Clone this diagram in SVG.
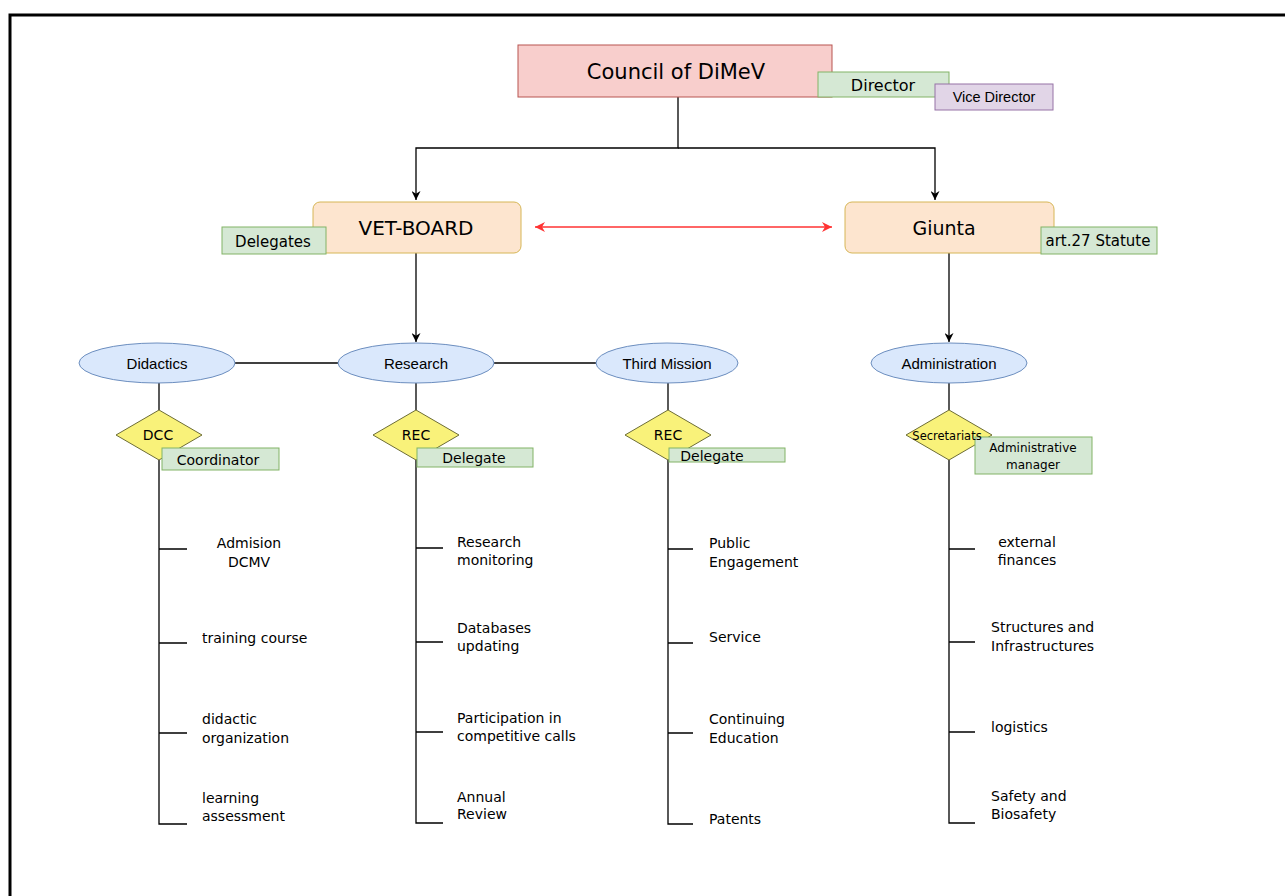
<svg xmlns="http://www.w3.org/2000/svg" width="1285" height="896" viewBox="0 0 1285 896">
<defs>
<style>
.c{font-family:"DejaVu Sans",sans-serif;fill:#000;dominant-baseline:central}
.a{font-family:"Liberation Sans",Arial,sans-serif;fill:#000;dominant-baseline:central}
.mid{text-anchor:middle}
.leaf{font-size:14px}
.ln{stroke:#000;stroke-width:1.3;fill:none}
.grn{fill:#d5e8d4;stroke:#82b366;stroke-width:1}
.ell{fill:#dae8fc;stroke:#6c8ebf;stroke-width:1}
.dia{fill:#f9f27a;stroke:#6d6d36;stroke-width:1}
.org{fill:#fde5cf;stroke:#d6b656;stroke-width:1}
</style>
<marker id="ab" viewBox="0 0 10 10" refX="10" refY="5" markerWidth="9" markerHeight="9" markerUnits="userSpaceOnUse" orient="auto">
<path d="M0,0 L10,5 L0,10 L3,5 Z" fill="#000"/>
</marker>
<marker id="ar" viewBox="0 0 10 10" refX="10" refY="5" markerWidth="10" markerHeight="10" markerUnits="userSpaceOnUse" orient="auto-start-reverse">
<path d="M0,0 L10,5 L0,10 L3,5 Z" fill="#ff3333"/>
</marker>
</defs>
<rect width="1285" height="896" fill="#fff"/>
<path d="M10,896 V15 H1285" fill="none" stroke="#000" stroke-width="3"/>

<g id="connectors">
<path class="ln" d="M678,97 V148 H416 V200" marker-end="url(#ab)"/>
<path class="ln" d="M678,148 H935 V200" marker-end="url(#ab)"/>
<line x1="535" y1="227" x2="832" y2="227" stroke="#ff3333" stroke-width="1.3" marker-start="url(#ar)" marker-end="url(#ar)"/>
<path class="ln" d="M416,253 V342" marker-end="url(#ab)"/>
<path class="ln" d="M949,253 V342" marker-end="url(#ab)"/>
<line class="ln" x1="235" y1="363" x2="338" y2="363"/>
<line class="ln" x1="494" y1="363" x2="596" y2="363"/>
<line class="ln" x1="159" y1="383" x2="159" y2="410"/>
<line class="ln" x1="416" y1="383" x2="416" y2="410"/>
<line class="ln" x1="668" y1="383" x2="668" y2="410"/>
<line class="ln" x1="949" y1="383" x2="949" y2="410"/>
<path class="ln" d="M159,460 V824 H187 M159,549 H187 M159,643 H187 M159,733 H187"/>
<path class="ln" d="M416,460 V823 H443 M416,548 H443 M416,642 H443 M416,732 H443"/>
<path class="ln" d="M668,460 V824 H693 M668,549 H693 M668,643 H693 M668,733 H693"/>
<path class="ln" d="M949,460 V823 H975 M949,549 H975 M949,642 H975 M949,732 H975"/>
</g>

<g id="council">
<rect x="518" y="45" width="314" height="52" fill="#f8cecc" stroke="#b85450" stroke-width="1"/>
<text class="c mid" x="676" y="72" font-size="21">Council of DiMeV</text>
</g>
<g id="director">
<rect class="grn" x="818" y="72" width="131" height="25"/>
<text class="c mid" x="883" y="85" font-size="16">Director</text>
</g>
<g id="vice-director">
<rect x="935" y="84" width="118" height="26" fill="#e1d5e7" stroke="#9673a6" stroke-width="1"/>
<text class="a mid" x="994" y="97" font-size="14.5">Vice Director</text>
</g>

<g id="vet-board">
<rect class="org" x="313" y="202" width="208" height="51" rx="7"/>
<text class="c mid" x="416" y="228" font-size="20">VET-BOARD</text>
</g>
<g id="delegates">
<rect class="grn" x="222" y="227" width="104" height="27"/>
<text class="c mid" x="273" y="242" font-size="15">Delegates</text>
</g>
<g id="giunta">
<rect class="org" x="845" y="202" width="209" height="51" rx="7"/>
<text class="c mid" x="944" y="228" font-size="19">Giunta</text>
</g>
<g id="art27">
<rect class="grn" x="1041" y="227" width="116" height="27"/>
<text class="c mid" x="1098" y="241" font-size="15">art.27 Statute</text>
</g>

<g id="didactics">
<ellipse class="ell" cx="157" cy="363" rx="78" ry="20"/>
<text class="a mid" x="157" y="363" font-size="15">Didactics</text>
</g>
<g id="research">
<ellipse class="ell" cx="416" cy="363" rx="78" ry="20"/>
<text class="a mid" x="416" y="363" font-size="15">Research</text>
</g>
<g id="third-mission">
<ellipse class="ell" cx="667" cy="363" rx="71" ry="20"/>
<text class="a mid" x="667" y="363" font-size="15">Third Mission</text>
</g>
<g id="administration">
<ellipse class="ell" cx="949" cy="363" rx="78" ry="20"/>
<text class="a mid" x="949" y="363" font-size="15">Administration</text>
</g>

<g id="dcc">
<path class="dia" d="M159,410 L202,435 L159,460 L116,435 Z"/>
<text class="c mid" x="158" y="435" font-size="14">DCC</text>
</g>
<g id="coordinator">
<rect class="grn" x="162" y="448" width="117" height="22"/>
<text class="c mid" x="218" y="460" font-size="14">Coordinator</text>
</g>
<g id="rec-research">
<path class="dia" d="M416,410 L459,435 L416,460 L373,435 Z"/>
<text class="c mid" x="416" y="435" font-size="14">REC</text>
</g>
<g id="delegate-research">
<rect class="grn" x="417" y="448" width="116" height="19"/>
<text class="c mid" x="474" y="458" font-size="14">Delegate</text>
</g>
<g id="rec-third">
<path class="dia" d="M668,410 L711,435 L668,460 L625,435 Z"/>
<text class="c mid" x="668" y="435" font-size="14">REC</text>
</g>
<g id="delegate-third">
<rect class="grn" x="669" y="448" width="116" height="14"/>
<text class="c mid" x="712" y="456" font-size="14">Delegate</text>
</g>
<g id="secretariats">
<path class="dia" d="M949,410 L992,435 L949,460 L906,435 Z"/>
</g>
<g id="admin-manager">
<rect class="grn" x="975" y="437" width="117" height="37"/>
<text class="c mid" x="1033" y="448" font-size="12">Administrative</text>
<text class="c mid" x="1033" y="465" font-size="12">manager</text>
</g>
<text class="c mid" x="947" y="436" font-size="11.5">Secretariats</text>

<g id="didactics-items">
<text class="c leaf mid" x="249" y="543">Admision</text>
<text class="c leaf mid" x="249" y="562">DCMV</text>
<text class="c leaf" x="202" y="638">training course</text>
<text class="c leaf" x="202" y="719">didactic</text>
<text class="c leaf" x="202" y="738">organization</text>
<text class="c leaf" x="202" y="798">learning</text>
<text class="c leaf" x="202" y="816">assessment</text>
</g>
<g id="research-items">
<text class="c leaf" x="457" y="542">Research</text>
<text class="c leaf" x="457" y="560">monitoring</text>
<text class="c leaf" x="457" y="628">Databases</text>
<text class="c leaf" x="457" y="646">updating</text>
<text class="c leaf" x="457" y="718">Participation in</text>
<text class="c leaf" x="457" y="736">competitive calls</text>
<text class="c leaf" x="457" y="797">Annual</text>
<text class="c leaf" x="457" y="814">Review</text>
</g>
<g id="third-mission-items">
<text class="c leaf" x="709" y="543">Public</text>
<text class="c leaf" x="709" y="562">Engagement</text>
<text class="c leaf" x="709" y="637">Service</text>
<text class="c leaf" x="709" y="719">Continuing</text>
<text class="c leaf" x="709" y="738">Education</text>
<text class="c leaf" x="709" y="819">Patents</text>
</g>
<g id="administration-items">
<text class="c leaf mid" x="1027" y="542">external</text>
<text class="c leaf mid" x="1027" y="560">finances</text>
<text class="c leaf" x="991" y="627">Structures and</text>
<text class="c leaf" x="991" y="646">Infrastructures</text>
<text class="c leaf" x="991" y="727">logistics</text>
<text class="c leaf" x="991" y="796">Safety and</text>
<text class="c leaf" x="991" y="814">Biosafety</text>
</g>
</svg>
